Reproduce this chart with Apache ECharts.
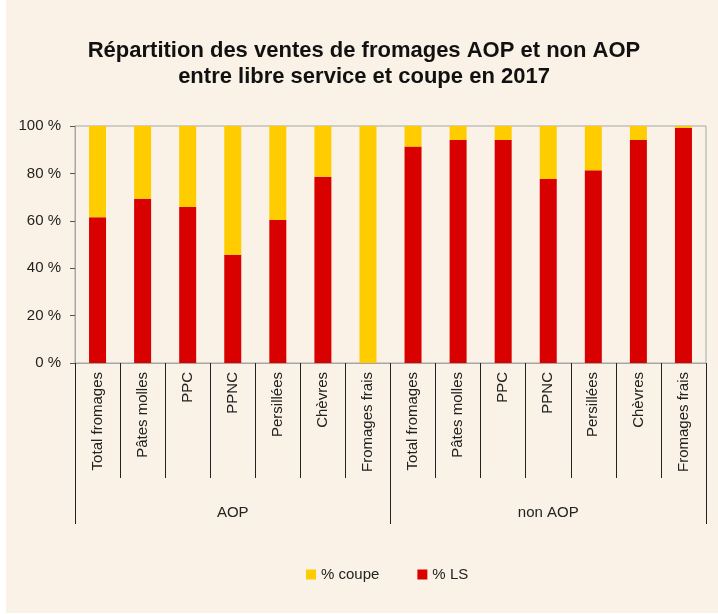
<!DOCTYPE html>
<html lang="fr">
<head>
  <meta charset="UTF-8">
  <title>Répartition des ventes de fromages AOP et non AOP</title>
  <script src="https://cdn.jsdelivr.net/npm/echarts@6.0.0/dist/echarts.min.js"></script>
  <style>
    body { margin: 0; background: #ffffff; }
    #main { position: absolute; left: 6px; top: 0; width: 712px; height: 613px; }
  </style>
</head>
<body>
<div id="main"></div>
<script type="text/javascript">
  // catégories (axe du bas) et groupes
  var categories = ['Total fromages', 'Pâtes molles', 'PPC', 'PPNC', 'Persillées', 'Chèvres', 'Fromages frais',
                    'Total fromages', 'Pâtes molles', 'PPC', 'PPNC', 'Persillées', 'Chèvres', 'Fromages frais'];
  var groups = ['AOP', 'non AOP'];
  // % libre service
  var ls = [61.5, 69.3, 65.8, 45.7, 60.3, 78.6, 0, 91.3, 94.1, 94.1, 77.6, 81.3, 94.1, 99.2];
  // % coupe
  var coupe = [38.5, 30.7, 34.2, 54.3, 39.7, 21.4, 100, 8.7, 5.9, 5.9, 22.4, 18.7, 5.9, 0.8];
  var yTicks = [0, 20, 40, 60, 80, 100];

  var font = "'Liberation Sans Narrow', 'Liberation Sans', sans-serif";
  var myChart = echarts.init(document.getElementById('main'));

  myChart.setOption({
    backgroundColor: '#faf2e6',
    textStyle: { fontFamily: font },
    title: {
      text: 'Répartition des ventes de fromages AOP et non AOP\nentre libre service et coupe en 2017',
      left: 353, top: 33, textAlign: 'center',
      textStyle: { fontFamily: font, fontSize: 22, fontWeight: 'bold', color: '#111', lineHeight: 26 }
    },
    legend: {
      data: ['% coupe', '% LS'],
      left: 295, top: 562,
      icon: 'rect', itemWidth: 10, itemHeight: 10, itemGap: 38,
      textStyle: { fontFamily: font, fontSize: 15, color: '#222' }
    },
    grid: {
      left: 69, right: 12, top: 126, bottom: 250,
      show: true, borderColor: '#a6a6a6', borderWidth: 1, backgroundColor: 'transparent'
    },
    xAxis: [
      {
        type: 'category',
        data: categories,
        axisLine: { lineStyle: { color: '#a6a6a6' } },
        axisTick: { show: true, interval: 0, length: 115, lineStyle: { color: '#222' } },
        axisLabel: { interval: 0, rotate: 90, margin: 9, fontSize: 15, color: '#222', fontFamily: font }
      },
      {
        type: 'category',
        data: groups,
        position: 'bottom',
        axisLine: { show: false },
        axisTick: { show: true, interval: 0, length: 161, lineStyle: { color: '#222' } },
        axisLabel: { interval: 0, margin: 142, fontSize: 15, color: '#222', fontFamily: font }
      }
    ],
    yAxis: {
      type: 'value',
      min: 0, max: 100, interval: 20,
      axisLine: { show: true, lineStyle: { color: '#a6a6a6' } },
      axisTick: { show: true, length: 5, lineStyle: { color: '#555' } },
      splitLine: { show: false },
      axisLabel: {
        margin: 14, fontSize: 15, color: '#222', fontFamily: font,
        formatter: function (v) { return yTicks.indexOf(v) >= 0 ? v + ' %' : ''; }
      }
    },
    series: [
      {
        name: '% LS', type: 'bar', stack: 'total', data: ls,
        barWidth: 17, itemStyle: { color: '#d90000' }
      },
      {
        name: '% coupe', type: 'bar', stack: 'total', data: coupe,
        barWidth: 17, itemStyle: { color: '#ffcc00' }
      }
    ]
  });
</script>
</body>
</html>
